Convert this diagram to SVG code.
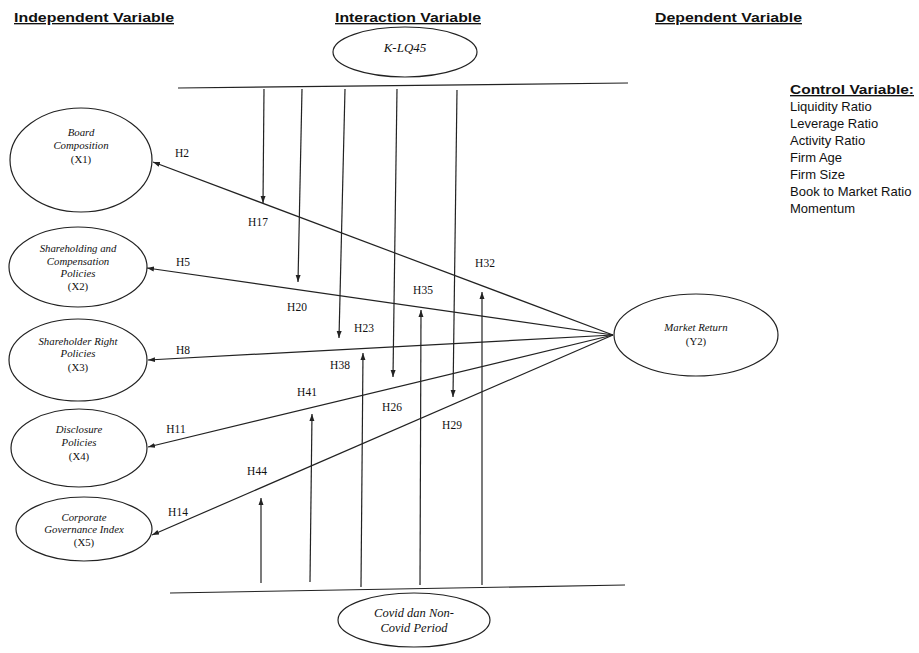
<svg xmlns="http://www.w3.org/2000/svg" width="919" height="653" viewBox="0 0 919 653">
<style>
.hd{font-family:"Liberation Sans",Arial,sans-serif;font-weight:bold;font-size:13.5px;text-decoration:underline;fill:#111}
.cv{font-family:"Liberation Sans",Arial,sans-serif;font-size:13px;fill:#111}
.nl{font-family:"Liberation Serif","Times New Roman",serif;font-style:italic;font-size:10.8px;fill:#111;text-anchor:middle}
.nb{font-family:"Liberation Serif","Times New Roman",serif;font-style:italic;font-size:13px;fill:#111;text-anchor:middle}
.hl{font-family:"Liberation Serif","Times New Roman",serif;font-size:11.5px;fill:#111;text-anchor:middle}
ellipse{fill:#fff;stroke:#222;stroke-width:1.2}
.c line{stroke:#222;stroke-width:1.2}
.a{marker-end:url(#ar)}
</style>
<defs>
<marker id="ar" markerWidth="8" markerHeight="8" refX="7" refY="4" orient="auto" markerUnits="userSpaceOnUse">
<path d="M0,1.5 L7,4 L0,6.5 Z" fill="#222"/>
</marker>
</defs>
<rect width="919" height="653" fill="#fff"/>

<text class="hd" x="14" y="22" textLength="160" lengthAdjust="spacingAndGlyphs">Independent Variable</text>
<text class="hd" x="335" y="22" textLength="146" lengthAdjust="spacingAndGlyphs">Interaction Variable</text>
<text class="hd" x="655" y="22" textLength="147" lengthAdjust="spacingAndGlyphs">Dependent Variable</text>

<g id="control">
<text class="hd" x="790" y="94" textLength="124" lengthAdjust="spacingAndGlyphs">Control Variable:</text>
<text class="cv" x="790" y="111">Liquidity Ratio</text>
<text class="cv" x="790" y="128">Leverage Ratio</text>
<text class="cv" x="790" y="145">Activity Ratio</text>
<text class="cv" x="790" y="162">Firm Age</text>
<text class="cv" x="790" y="179">Firm Size</text>
<text class="cv" x="790" y="196">Book to Market Ratio</text>
<text class="cv" x="790" y="213">Momentum</text>
</g>

<g class="c" id="connectors">
<line x1="178" y1="88" x2="628" y2="83"/>
<line x1="170" y1="593" x2="625" y2="585"/>
<line class="a" x1="613" y1="335" x2="153" y2="162"/>
<line class="a" x1="613" y1="335" x2="147" y2="268"/>
<line class="a" x1="613" y1="335" x2="148" y2="360"/>
<line class="a" x1="613" y1="335" x2="148" y2="447"/>
<line class="a" x1="613" y1="335" x2="152" y2="535"/>
<line class="a" x1="264" y1="89" x2="263" y2="203"/>
<line class="a" x1="302" y1="89" x2="298" y2="282"/>
<line class="a" x1="345" y1="89" x2="339" y2="338"/>
<line class="a" x1="397" y1="89" x2="393" y2="377"/>
<line class="a" x1="457" y1="90" x2="453" y2="397"/>
<line class="a" x1="261" y1="583" x2="261" y2="498"/>
<line class="a" x1="310" y1="582" x2="312" y2="414"/>
<line class="a" x1="361" y1="587" x2="363" y2="353"/>
<line class="a" x1="420" y1="585" x2="421" y2="310"/>
<line class="a" x1="482" y1="585" x2="482" y2="292"/>
</g>

<g id="labels">
<text class="hl" x="182" y="157">H2</text>
<text class="hl" x="258" y="226">H17</text>
<text class="hl" x="183" y="266">H5</text>
<text class="hl" x="297" y="311">H20</text>
<text class="hl" x="485" y="267">H32</text>
<text class="hl" x="423" y="294">H35</text>
<text class="hl" x="364" y="332">H23</text>
<text class="hl" x="183" y="354">H8</text>
<text class="hl" x="340" y="369">H38</text>
<text class="hl" x="307" y="396">H41</text>
<text class="hl" x="392" y="411">H26</text>
<text class="hl" x="176" y="433">H11</text>
<text class="hl" x="452" y="429">H29</text>
<text class="hl" x="257" y="475">H44</text>
<text class="hl" x="178" y="516">H14</text>
</g>

<g id="klq45">
<ellipse cx="405" cy="52" rx="72" ry="25"/>
<text class="nb" x="405" y="52">K-LQ45</text>
</g>

<g id="x1">
<ellipse cx="81" cy="160" rx="71" ry="52"/>
<text class="nl" x="81" y="136">Board</text>
<text class="nl" x="81" y="149">Composition</text>
<text class="nl" x="81" y="163" style="font-style:normal">(X1)</text>
</g>

<g id="x2">
<ellipse cx="78" cy="267" rx="69" ry="40"/>
<text class="nl" x="78" y="252">Shareholding and</text>
<text class="nl" x="78" y="265">Compensation</text>
<text class="nl" x="78" y="277">Policies</text>
<text class="nl" x="78" y="290" style="font-style:normal">(X2)</text>
</g>

<g id="x3">
<ellipse cx="78" cy="360" rx="69" ry="41"/>
<text class="nl" x="78" y="345">Shareholder Right</text>
<text class="nl" x="78" y="357">Policies</text>
<text class="nl" x="78" y="371" style="font-style:normal">(X3)</text>
</g>

<g id="x4">
<ellipse cx="79" cy="448" rx="68" ry="39"/>
<text class="nl" x="79" y="433">Disclosure</text>
<text class="nl" x="79" y="446">Policies</text>
<text class="nl" x="79" y="460" style="font-style:normal">(X4)</text>
</g>

<g id="x5">
<ellipse cx="84" cy="529" rx="68" ry="32"/>
<text class="nl" x="84" y="521">Corporate</text>
<text class="nl" x="84" y="533">Governance Index</text>
<text class="nl" x="84" y="546" style="font-style:normal">(X5)</text>
</g>

<g id="y2">
<ellipse cx="696" cy="335" rx="82" ry="41"/>
<text class="nl" x="696" y="331">Market Return</text>
<text class="nl" x="696" y="345" style="font-style:normal">(Y2)</text>
</g>

<g id="covid">
<ellipse cx="414" cy="620" rx="76" ry="27"/>
<text class="nb" x="414" y="617" style="font-size:12.5px">Covid dan Non-</text>
<text class="nb" x="414" y="632" style="font-size:12.5px">Covid Period</text>
</g>
</svg>
